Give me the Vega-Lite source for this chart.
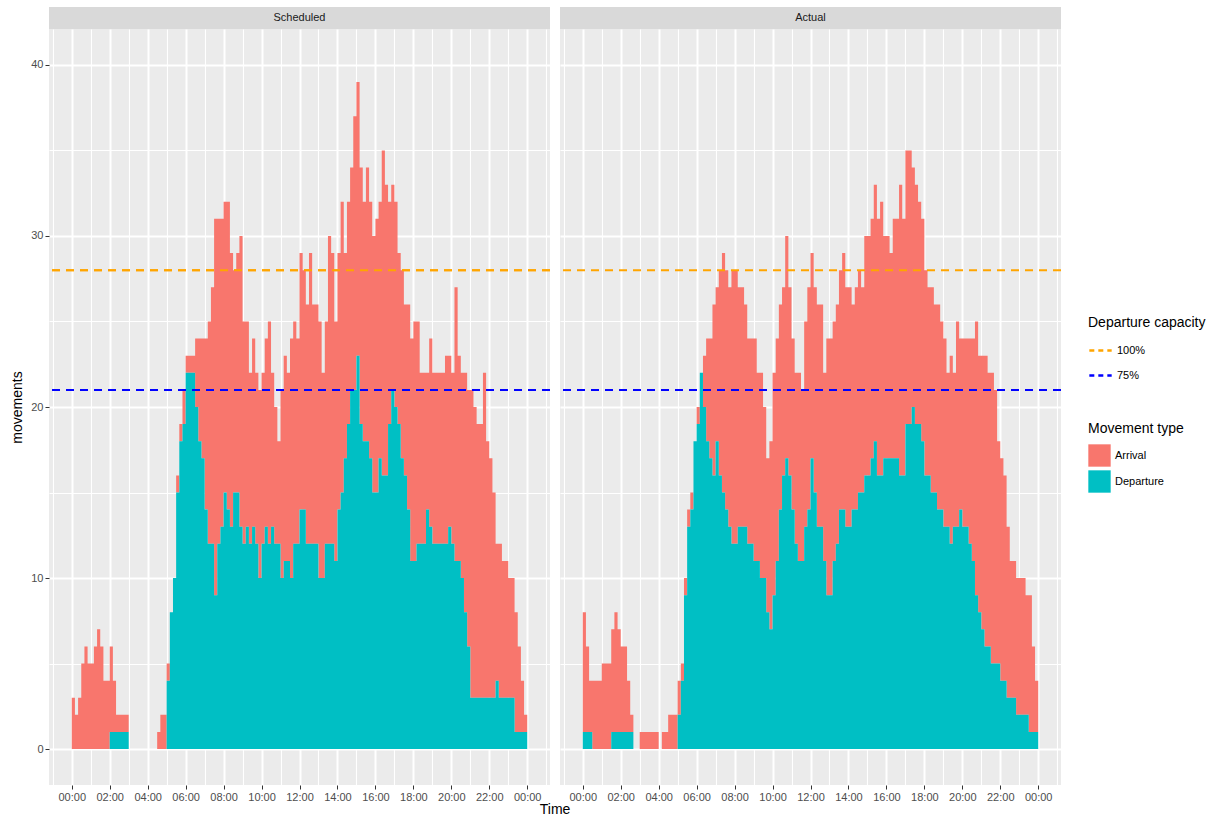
{
"$schema": "https://vega.github.io/schema/vega-lite/v6.json",
"background": "white",
"padding": {"left": 10, "top": 7, "right": 5, "bottom": 4},
"title": {"text": "Time", "orient": "bottom", "anchor": "start", "frame": "bounds", "dx": 529, "offset": 1, "fontSize": 14, "fontWeight": "normal", "color": "black", "font": "Liberation Sans"},
"config": {
  "font": "Liberation Sans",
  "view": {"stroke": null},
  "axis": {"labelColor": "#4D4D4D", "labelFontSize": 11, "titleFontSize": 14, "titleFontWeight": "normal", "titleColor": "black", "tickColor": "#333333", "tickSize": 4, "labelPadding": 2, "domain": false, "gridColor": "white"},
  "legend": {"titleFontSize": 14, "titleFontWeight": "normal", "titleColor": "black", "labelFontSize": 11, "labelColor": "black", "offset": 26, "rowPadding": 3, "titlePadding": 8, "layout": {"right": {"anchor": "middle", "direction": "vertical", "margin": 41}}}
},
"datasets": {"mov": [
{"panel":"Scheduled","min":0,"type":"Arrival","n":3},{"panel":"Scheduled","min":0,"type":"Departure","n":0},
{"panel":"Scheduled","min":10,"type":"Arrival","n":2},{"panel":"Scheduled","min":10,"type":"Departure","n":0},
{"panel":"Scheduled","min":20,"type":"Arrival","n":3},{"panel":"Scheduled","min":20,"type":"Departure","n":0},
{"panel":"Scheduled","min":30,"type":"Arrival","n":5},{"panel":"Scheduled","min":30,"type":"Departure","n":0},
{"panel":"Scheduled","min":40,"type":"Arrival","n":6},{"panel":"Scheduled","min":40,"type":"Departure","n":0},
{"panel":"Scheduled","min":50,"type":"Arrival","n":5},{"panel":"Scheduled","min":50,"type":"Departure","n":0},
{"panel":"Scheduled","min":60,"type":"Arrival","n":5},{"panel":"Scheduled","min":60,"type":"Departure","n":0},
{"panel":"Scheduled","min":70,"type":"Arrival","n":6},{"panel":"Scheduled","min":70,"type":"Departure","n":0},
{"panel":"Scheduled","min":80,"type":"Arrival","n":7},{"panel":"Scheduled","min":80,"type":"Departure","n":0},
{"panel":"Scheduled","min":90,"type":"Arrival","n":6},{"panel":"Scheduled","min":90,"type":"Departure","n":0},
{"panel":"Scheduled","min":100,"type":"Arrival","n":4},{"panel":"Scheduled","min":100,"type":"Departure","n":0},
{"panel":"Scheduled","min":110,"type":"Arrival","n":4},{"panel":"Scheduled","min":110,"type":"Departure","n":0},
{"panel":"Scheduled","min":120,"type":"Arrival","n":5},{"panel":"Scheduled","min":120,"type":"Departure","n":1},
{"panel":"Scheduled","min":130,"type":"Arrival","n":3},{"panel":"Scheduled","min":130,"type":"Departure","n":1},
{"panel":"Scheduled","min":140,"type":"Arrival","n":1},{"panel":"Scheduled","min":140,"type":"Departure","n":1},
{"panel":"Scheduled","min":150,"type":"Arrival","n":1},{"panel":"Scheduled","min":150,"type":"Departure","n":1},
{"panel":"Scheduled","min":160,"type":"Arrival","n":1},{"panel":"Scheduled","min":160,"type":"Departure","n":1},
{"panel":"Scheduled","min":170,"type":"Arrival","n":1},{"panel":"Scheduled","min":170,"type":"Departure","n":1},
{"panel":"Scheduled","min":180,"type":"Arrival","n":0},{"panel":"Scheduled","min":180,"type":"Departure","n":0},
{"panel":"Scheduled","min":190,"type":"Arrival","n":0},{"panel":"Scheduled","min":190,"type":"Departure","n":0},
{"panel":"Scheduled","min":200,"type":"Arrival","n":0},{"panel":"Scheduled","min":200,"type":"Departure","n":0},
{"panel":"Scheduled","min":210,"type":"Arrival","n":0},{"panel":"Scheduled","min":210,"type":"Departure","n":0},
{"panel":"Scheduled","min":220,"type":"Arrival","n":0},{"panel":"Scheduled","min":220,"type":"Departure","n":0},
{"panel":"Scheduled","min":230,"type":"Arrival","n":0},{"panel":"Scheduled","min":230,"type":"Departure","n":0},
{"panel":"Scheduled","min":240,"type":"Arrival","n":0},{"panel":"Scheduled","min":240,"type":"Departure","n":0},
{"panel":"Scheduled","min":250,"type":"Arrival","n":0},{"panel":"Scheduled","min":250,"type":"Departure","n":0},
{"panel":"Scheduled","min":260,"type":"Arrival","n":0},{"panel":"Scheduled","min":260,"type":"Departure","n":0},
{"panel":"Scheduled","min":270,"type":"Arrival","n":1},{"panel":"Scheduled","min":270,"type":"Departure","n":0},
{"panel":"Scheduled","min":280,"type":"Arrival","n":2},{"panel":"Scheduled","min":280,"type":"Departure","n":0},
{"panel":"Scheduled","min":290,"type":"Arrival","n":2},{"panel":"Scheduled","min":290,"type":"Departure","n":0},
{"panel":"Scheduled","min":300,"type":"Arrival","n":1},{"panel":"Scheduled","min":300,"type":"Departure","n":4},
{"panel":"Scheduled","min":310,"type":"Arrival","n":0},{"panel":"Scheduled","min":310,"type":"Departure","n":8},
{"panel":"Scheduled","min":320,"type":"Arrival","n":0},{"panel":"Scheduled","min":320,"type":"Departure","n":10},
{"panel":"Scheduled","min":330,"type":"Arrival","n":1},{"panel":"Scheduled","min":330,"type":"Departure","n":15},
{"panel":"Scheduled","min":340,"type":"Arrival","n":1},{"panel":"Scheduled","min":340,"type":"Departure","n":18},
{"panel":"Scheduled","min":350,"type":"Arrival","n":2},{"panel":"Scheduled","min":350,"type":"Departure","n":19},
{"panel":"Scheduled","min":360,"type":"Arrival","n":1},{"panel":"Scheduled","min":360,"type":"Departure","n":22},
{"panel":"Scheduled","min":370,"type":"Arrival","n":1},{"panel":"Scheduled","min":370,"type":"Departure","n":22},
{"panel":"Scheduled","min":380,"type":"Arrival","n":1},{"panel":"Scheduled","min":380,"type":"Departure","n":22},
{"panel":"Scheduled","min":390,"type":"Arrival","n":4},{"panel":"Scheduled","min":390,"type":"Departure","n":20},
{"panel":"Scheduled","min":400,"type":"Arrival","n":6},{"panel":"Scheduled","min":400,"type":"Departure","n":18},
{"panel":"Scheduled","min":410,"type":"Arrival","n":7},{"panel":"Scheduled","min":410,"type":"Departure","n":17},
{"panel":"Scheduled","min":420,"type":"Arrival","n":10},{"panel":"Scheduled","min":420,"type":"Departure","n":14},
{"panel":"Scheduled","min":430,"type":"Arrival","n":13},{"panel":"Scheduled","min":430,"type":"Departure","n":12},
{"panel":"Scheduled","min":440,"type":"Arrival","n":15},{"panel":"Scheduled","min":440,"type":"Departure","n":12},
{"panel":"Scheduled","min":450,"type":"Arrival","n":22},{"panel":"Scheduled","min":450,"type":"Departure","n":9},
{"panel":"Scheduled","min":460,"type":"Arrival","n":19},{"panel":"Scheduled","min":460,"type":"Departure","n":12},
{"panel":"Scheduled","min":470,"type":"Arrival","n":18},{"panel":"Scheduled","min":470,"type":"Departure","n":13},
{"panel":"Scheduled","min":480,"type":"Arrival","n":17},{"panel":"Scheduled","min":480,"type":"Departure","n":15},
{"panel":"Scheduled","min":490,"type":"Arrival","n":18},{"panel":"Scheduled","min":490,"type":"Departure","n":14},
{"panel":"Scheduled","min":500,"type":"Arrival","n":16},{"panel":"Scheduled","min":500,"type":"Departure","n":13},
{"panel":"Scheduled","min":510,"type":"Arrival","n":13},{"panel":"Scheduled","min":510,"type":"Departure","n":15},
{"panel":"Scheduled","min":520,"type":"Arrival","n":14},{"panel":"Scheduled","min":520,"type":"Departure","n":15},
{"panel":"Scheduled","min":530,"type":"Arrival","n":17},{"panel":"Scheduled","min":530,"type":"Departure","n":13},
{"panel":"Scheduled","min":540,"type":"Arrival","n":13},{"panel":"Scheduled","min":540,"type":"Departure","n":12},
{"panel":"Scheduled","min":550,"type":"Arrival","n":12},{"panel":"Scheduled","min":550,"type":"Departure","n":13},
{"panel":"Scheduled","min":560,"type":"Arrival","n":10},{"panel":"Scheduled","min":560,"type":"Departure","n":12},
{"panel":"Scheduled","min":570,"type":"Arrival","n":11},{"panel":"Scheduled","min":570,"type":"Departure","n":13},
{"panel":"Scheduled","min":580,"type":"Arrival","n":10},{"panel":"Scheduled","min":580,"type":"Departure","n":12},
{"panel":"Scheduled","min":590,"type":"Arrival","n":11},{"panel":"Scheduled","min":590,"type":"Departure","n":10},
{"panel":"Scheduled","min":600,"type":"Arrival","n":10},{"panel":"Scheduled","min":600,"type":"Departure","n":12},
{"panel":"Scheduled","min":610,"type":"Arrival","n":11},{"panel":"Scheduled","min":610,"type":"Departure","n":13},
{"panel":"Scheduled","min":620,"type":"Arrival","n":13},{"panel":"Scheduled","min":620,"type":"Departure","n":12},
{"panel":"Scheduled","min":630,"type":"Arrival","n":9},{"panel":"Scheduled","min":630,"type":"Departure","n":13},
{"panel":"Scheduled","min":640,"type":"Arrival","n":8},{"panel":"Scheduled","min":640,"type":"Departure","n":12},
{"panel":"Scheduled","min":650,"type":"Arrival","n":6},{"panel":"Scheduled","min":650,"type":"Departure","n":12},
{"panel":"Scheduled","min":660,"type":"Arrival","n":11},{"panel":"Scheduled","min":660,"type":"Departure","n":10},
{"panel":"Scheduled","min":670,"type":"Arrival","n":12},{"panel":"Scheduled","min":670,"type":"Departure","n":11},
{"panel":"Scheduled","min":680,"type":"Arrival","n":11},{"panel":"Scheduled","min":680,"type":"Departure","n":11},
{"panel":"Scheduled","min":690,"type":"Arrival","n":14},{"panel":"Scheduled","min":690,"type":"Departure","n":10},
{"panel":"Scheduled","min":700,"type":"Arrival","n":13},{"panel":"Scheduled","min":700,"type":"Departure","n":12},
{"panel":"Scheduled","min":710,"type":"Arrival","n":12},{"panel":"Scheduled","min":710,"type":"Departure","n":12},
{"panel":"Scheduled","min":720,"type":"Arrival","n":15},{"panel":"Scheduled","min":720,"type":"Departure","n":14},
{"panel":"Scheduled","min":730,"type":"Arrival","n":14},{"panel":"Scheduled","min":730,"type":"Departure","n":14},
{"panel":"Scheduled","min":740,"type":"Arrival","n":14},{"panel":"Scheduled","min":740,"type":"Departure","n":12},
{"panel":"Scheduled","min":750,"type":"Arrival","n":17},{"panel":"Scheduled","min":750,"type":"Departure","n":12},
{"panel":"Scheduled","min":760,"type":"Arrival","n":14},{"panel":"Scheduled","min":760,"type":"Departure","n":12},
{"panel":"Scheduled","min":770,"type":"Arrival","n":14},{"panel":"Scheduled","min":770,"type":"Departure","n":12},
{"panel":"Scheduled","min":780,"type":"Arrival","n":15},{"panel":"Scheduled","min":780,"type":"Departure","n":10},
{"panel":"Scheduled","min":790,"type":"Arrival","n":12},{"panel":"Scheduled","min":790,"type":"Departure","n":10},
{"panel":"Scheduled","min":800,"type":"Arrival","n":13},{"panel":"Scheduled","min":800,"type":"Departure","n":12},
{"panel":"Scheduled","min":810,"type":"Arrival","n":18},{"panel":"Scheduled","min":810,"type":"Departure","n":12},
{"panel":"Scheduled","min":820,"type":"Arrival","n":17},{"panel":"Scheduled","min":820,"type":"Departure","n":12},
{"panel":"Scheduled","min":830,"type":"Arrival","n":14},{"panel":"Scheduled","min":830,"type":"Departure","n":11},
{"panel":"Scheduled","min":840,"type":"Arrival","n":15},{"panel":"Scheduled","min":840,"type":"Departure","n":14},
{"panel":"Scheduled","min":850,"type":"Arrival","n":17},{"panel":"Scheduled","min":850,"type":"Departure","n":15},
{"panel":"Scheduled","min":860,"type":"Arrival","n":12},{"panel":"Scheduled","min":860,"type":"Departure","n":17},
{"panel":"Scheduled","min":870,"type":"Arrival","n":13},{"panel":"Scheduled","min":870,"type":"Departure","n":19},
{"panel":"Scheduled","min":880,"type":"Arrival","n":13},{"panel":"Scheduled","min":880,"type":"Departure","n":21},
{"panel":"Scheduled","min":890,"type":"Arrival","n":16},{"panel":"Scheduled","min":890,"type":"Departure","n":21},
{"panel":"Scheduled","min":900,"type":"Arrival","n":16},{"panel":"Scheduled","min":900,"type":"Departure","n":23},
{"panel":"Scheduled","min":910,"type":"Arrival","n":15},{"panel":"Scheduled","min":910,"type":"Departure","n":19},
{"panel":"Scheduled","min":920,"type":"Arrival","n":14},{"panel":"Scheduled","min":920,"type":"Departure","n":18},
{"panel":"Scheduled","min":930,"type":"Arrival","n":16},{"panel":"Scheduled","min":930,"type":"Departure","n":18},
{"panel":"Scheduled","min":940,"type":"Arrival","n":15},{"panel":"Scheduled","min":940,"type":"Departure","n":17},
{"panel":"Scheduled","min":950,"type":"Arrival","n":15},{"panel":"Scheduled","min":950,"type":"Departure","n":15},
{"panel":"Scheduled","min":960,"type":"Arrival","n":16},{"panel":"Scheduled","min":960,"type":"Departure","n":15},
{"panel":"Scheduled","min":970,"type":"Arrival","n":15},{"panel":"Scheduled","min":970,"type":"Departure","n":17},
{"panel":"Scheduled","min":980,"type":"Arrival","n":19},{"panel":"Scheduled","min":980,"type":"Departure","n":16},
{"panel":"Scheduled","min":990,"type":"Arrival","n":17},{"panel":"Scheduled","min":990,"type":"Departure","n":16},
{"panel":"Scheduled","min":1000,"type":"Arrival","n":13},{"panel":"Scheduled","min":1000,"type":"Departure","n":19},
{"panel":"Scheduled","min":1010,"type":"Arrival","n":12},{"panel":"Scheduled","min":1010,"type":"Departure","n":21},
{"panel":"Scheduled","min":1020,"type":"Arrival","n":12},{"panel":"Scheduled","min":1020,"type":"Departure","n":20},
{"panel":"Scheduled","min":1030,"type":"Arrival","n":10},{"panel":"Scheduled","min":1030,"type":"Departure","n":19},
{"panel":"Scheduled","min":1040,"type":"Arrival","n":11},{"panel":"Scheduled","min":1040,"type":"Departure","n":17},
{"panel":"Scheduled","min":1050,"type":"Arrival","n":10},{"panel":"Scheduled","min":1050,"type":"Departure","n":16},
{"panel":"Scheduled","min":1060,"type":"Arrival","n":12},{"panel":"Scheduled","min":1060,"type":"Departure","n":14},
{"panel":"Scheduled","min":1070,"type":"Arrival","n":13},{"panel":"Scheduled","min":1070,"type":"Departure","n":11},
{"panel":"Scheduled","min":1080,"type":"Arrival","n":14},{"panel":"Scheduled","min":1080,"type":"Departure","n":11},
{"panel":"Scheduled","min":1090,"type":"Arrival","n":13},{"panel":"Scheduled","min":1090,"type":"Departure","n":12},
{"panel":"Scheduled","min":1100,"type":"Arrival","n":10},{"panel":"Scheduled","min":1100,"type":"Departure","n":12},
{"panel":"Scheduled","min":1110,"type":"Arrival","n":10},{"panel":"Scheduled","min":1110,"type":"Departure","n":12},
{"panel":"Scheduled","min":1120,"type":"Arrival","n":8},{"panel":"Scheduled","min":1120,"type":"Departure","n":14},
{"panel":"Scheduled","min":1130,"type":"Arrival","n":11},{"panel":"Scheduled","min":1130,"type":"Departure","n":13},
{"panel":"Scheduled","min":1140,"type":"Arrival","n":10},{"panel":"Scheduled","min":1140,"type":"Departure","n":12},
{"panel":"Scheduled","min":1150,"type":"Arrival","n":10},{"panel":"Scheduled","min":1150,"type":"Departure","n":12},
{"panel":"Scheduled","min":1160,"type":"Arrival","n":10},{"panel":"Scheduled","min":1160,"type":"Departure","n":12},
{"panel":"Scheduled","min":1170,"type":"Arrival","n":10},{"panel":"Scheduled","min":1170,"type":"Departure","n":12},
{"panel":"Scheduled","min":1180,"type":"Arrival","n":11},{"panel":"Scheduled","min":1180,"type":"Departure","n":12},
{"panel":"Scheduled","min":1190,"type":"Arrival","n":10},{"panel":"Scheduled","min":1190,"type":"Departure","n":13},
{"panel":"Scheduled","min":1200,"type":"Arrival","n":10},{"panel":"Scheduled","min":1200,"type":"Departure","n":12},
{"panel":"Scheduled","min":1210,"type":"Arrival","n":16},{"panel":"Scheduled","min":1210,"type":"Departure","n":11},
{"panel":"Scheduled","min":1220,"type":"Arrival","n":12},{"panel":"Scheduled","min":1220,"type":"Departure","n":11},
{"panel":"Scheduled","min":1230,"type":"Arrival","n":12},{"panel":"Scheduled","min":1230,"type":"Departure","n":10},
{"panel":"Scheduled","min":1240,"type":"Arrival","n":14},{"panel":"Scheduled","min":1240,"type":"Departure","n":8},
{"panel":"Scheduled","min":1250,"type":"Arrival","n":15},{"panel":"Scheduled","min":1250,"type":"Departure","n":6},
{"panel":"Scheduled","min":1260,"type":"Arrival","n":18},{"panel":"Scheduled","min":1260,"type":"Departure","n":3},
{"panel":"Scheduled","min":1270,"type":"Arrival","n":17},{"panel":"Scheduled","min":1270,"type":"Departure","n":3},
{"panel":"Scheduled","min":1280,"type":"Arrival","n":16},{"panel":"Scheduled","min":1280,"type":"Departure","n":3},
{"panel":"Scheduled","min":1290,"type":"Arrival","n":16},{"panel":"Scheduled","min":1290,"type":"Departure","n":3},
{"panel":"Scheduled","min":1300,"type":"Arrival","n":19},{"panel":"Scheduled","min":1300,"type":"Departure","n":3},
{"panel":"Scheduled","min":1310,"type":"Arrival","n":15},{"panel":"Scheduled","min":1310,"type":"Departure","n":3},
{"panel":"Scheduled","min":1320,"type":"Arrival","n":14},{"panel":"Scheduled","min":1320,"type":"Departure","n":3},
{"panel":"Scheduled","min":1330,"type":"Arrival","n":12},{"panel":"Scheduled","min":1330,"type":"Departure","n":3},
{"panel":"Scheduled","min":1340,"type":"Arrival","n":8},{"panel":"Scheduled","min":1340,"type":"Departure","n":4},
{"panel":"Scheduled","min":1350,"type":"Arrival","n":9},{"panel":"Scheduled","min":1350,"type":"Departure","n":3},
{"panel":"Scheduled","min":1360,"type":"Arrival","n":8},{"panel":"Scheduled","min":1360,"type":"Departure","n":3},
{"panel":"Scheduled","min":1370,"type":"Arrival","n":8},{"panel":"Scheduled","min":1370,"type":"Departure","n":3},
{"panel":"Scheduled","min":1380,"type":"Arrival","n":7},{"panel":"Scheduled","min":1380,"type":"Departure","n":3},
{"panel":"Scheduled","min":1390,"type":"Arrival","n":7},{"panel":"Scheduled","min":1390,"type":"Departure","n":3},
{"panel":"Scheduled","min":1400,"type":"Arrival","n":7},{"panel":"Scheduled","min":1400,"type":"Departure","n":1},
{"panel":"Scheduled","min":1410,"type":"Arrival","n":5},{"panel":"Scheduled","min":1410,"type":"Departure","n":1},
{"panel":"Scheduled","min":1420,"type":"Arrival","n":3},{"panel":"Scheduled","min":1420,"type":"Departure","n":1},
{"panel":"Scheduled","min":1430,"type":"Arrival","n":1},{"panel":"Scheduled","min":1430,"type":"Departure","n":1},
{"panel":"Scheduled","min":1440,"type":"Arrival","n":0},{"panel":"Scheduled","min":1440,"type":"Departure","n":0},
{"panel":"Actual","min":0,"type":"Arrival","n":7},{"panel":"Actual","min":0,"type":"Departure","n":1},
{"panel":"Actual","min":10,"type":"Arrival","n":5},{"panel":"Actual","min":10,"type":"Departure","n":1},
{"panel":"Actual","min":20,"type":"Arrival","n":3},{"panel":"Actual","min":20,"type":"Departure","n":1},
{"panel":"Actual","min":30,"type":"Arrival","n":4},{"panel":"Actual","min":30,"type":"Departure","n":0},
{"panel":"Actual","min":40,"type":"Arrival","n":4},{"panel":"Actual","min":40,"type":"Departure","n":0},
{"panel":"Actual","min":50,"type":"Arrival","n":4},{"panel":"Actual","min":50,"type":"Departure","n":0},
{"panel":"Actual","min":60,"type":"Arrival","n":5},{"panel":"Actual","min":60,"type":"Departure","n":0},
{"panel":"Actual","min":70,"type":"Arrival","n":5},{"panel":"Actual","min":70,"type":"Departure","n":0},
{"panel":"Actual","min":80,"type":"Arrival","n":5},{"panel":"Actual","min":80,"type":"Departure","n":0},
{"panel":"Actual","min":90,"type":"Arrival","n":6},{"panel":"Actual","min":90,"type":"Departure","n":1},
{"panel":"Actual","min":100,"type":"Arrival","n":7},{"panel":"Actual","min":100,"type":"Departure","n":1},
{"panel":"Actual","min":110,"type":"Arrival","n":6},{"panel":"Actual","min":110,"type":"Departure","n":1},
{"panel":"Actual","min":120,"type":"Arrival","n":5},{"panel":"Actual","min":120,"type":"Departure","n":1},
{"panel":"Actual","min":130,"type":"Arrival","n":5},{"panel":"Actual","min":130,"type":"Departure","n":1},
{"panel":"Actual","min":140,"type":"Arrival","n":3},{"panel":"Actual","min":140,"type":"Departure","n":1},
{"panel":"Actual","min":150,"type":"Arrival","n":1},{"panel":"Actual","min":150,"type":"Departure","n":1},
{"panel":"Actual","min":160,"type":"Arrival","n":0},{"panel":"Actual","min":160,"type":"Departure","n":0},
{"panel":"Actual","min":170,"type":"Arrival","n":0},{"panel":"Actual","min":170,"type":"Departure","n":0},
{"panel":"Actual","min":180,"type":"Arrival","n":1},{"panel":"Actual","min":180,"type":"Departure","n":0},
{"panel":"Actual","min":190,"type":"Arrival","n":1},{"panel":"Actual","min":190,"type":"Departure","n":0},
{"panel":"Actual","min":200,"type":"Arrival","n":1},{"panel":"Actual","min":200,"type":"Departure","n":0},
{"panel":"Actual","min":210,"type":"Arrival","n":1},{"panel":"Actual","min":210,"type":"Departure","n":0},
{"panel":"Actual","min":220,"type":"Arrival","n":1},{"panel":"Actual","min":220,"type":"Departure","n":0},
{"panel":"Actual","min":230,"type":"Arrival","n":1},{"panel":"Actual","min":230,"type":"Departure","n":0},
{"panel":"Actual","min":240,"type":"Arrival","n":0},{"panel":"Actual","min":240,"type":"Departure","n":0},
{"panel":"Actual","min":250,"type":"Arrival","n":1},{"panel":"Actual","min":250,"type":"Departure","n":0},
{"panel":"Actual","min":260,"type":"Arrival","n":1},{"panel":"Actual","min":260,"type":"Departure","n":0},
{"panel":"Actual","min":270,"type":"Arrival","n":2},{"panel":"Actual","min":270,"type":"Departure","n":0},
{"panel":"Actual","min":280,"type":"Arrival","n":2},{"panel":"Actual","min":280,"type":"Departure","n":0},
{"panel":"Actual","min":290,"type":"Arrival","n":2},{"panel":"Actual","min":290,"type":"Departure","n":0},
{"panel":"Actual","min":300,"type":"Arrival","n":2},{"panel":"Actual","min":300,"type":"Departure","n":2},
{"panel":"Actual","min":310,"type":"Arrival","n":1},{"panel":"Actual","min":310,"type":"Departure","n":4},
{"panel":"Actual","min":320,"type":"Arrival","n":1},{"panel":"Actual","min":320,"type":"Departure","n":9},
{"panel":"Actual","min":330,"type":"Arrival","n":1},{"panel":"Actual","min":330,"type":"Departure","n":13},
{"panel":"Actual","min":340,"type":"Arrival","n":1},{"panel":"Actual","min":340,"type":"Departure","n":14},
{"panel":"Actual","min":350,"type":"Arrival","n":0},{"panel":"Actual","min":350,"type":"Departure","n":18},
{"panel":"Actual","min":360,"type":"Arrival","n":1},{"panel":"Actual","min":360,"type":"Departure","n":19},
{"panel":"Actual","min":370,"type":"Arrival","n":0},{"panel":"Actual","min":370,"type":"Departure","n":22},
{"panel":"Actual","min":380,"type":"Arrival","n":3},{"panel":"Actual","min":380,"type":"Departure","n":20},
{"panel":"Actual","min":390,"type":"Arrival","n":6},{"panel":"Actual","min":390,"type":"Departure","n":18},
{"panel":"Actual","min":400,"type":"Arrival","n":7},{"panel":"Actual","min":400,"type":"Departure","n":17},
{"panel":"Actual","min":410,"type":"Arrival","n":10},{"panel":"Actual","min":410,"type":"Departure","n":16},
{"panel":"Actual","min":420,"type":"Arrival","n":9},{"panel":"Actual","min":420,"type":"Departure","n":18},
{"panel":"Actual","min":430,"type":"Arrival","n":12},{"panel":"Actual","min":430,"type":"Departure","n":16},
{"panel":"Actual","min":440,"type":"Arrival","n":14},{"panel":"Actual","min":440,"type":"Departure","n":15},
{"panel":"Actual","min":450,"type":"Arrival","n":14},{"panel":"Actual","min":450,"type":"Departure","n":14},
{"panel":"Actual","min":460,"type":"Arrival","n":14},{"panel":"Actual","min":460,"type":"Departure","n":13},
{"panel":"Actual","min":470,"type":"Arrival","n":16},{"panel":"Actual","min":470,"type":"Departure","n":12},
{"panel":"Actual","min":480,"type":"Arrival","n":16},{"panel":"Actual","min":480,"type":"Departure","n":12},
{"panel":"Actual","min":490,"type":"Arrival","n":14},{"panel":"Actual","min":490,"type":"Departure","n":13},
{"panel":"Actual","min":500,"type":"Arrival","n":14},{"panel":"Actual","min":500,"type":"Departure","n":13},
{"panel":"Actual","min":510,"type":"Arrival","n":13},{"panel":"Actual","min":510,"type":"Departure","n":13},
{"panel":"Actual","min":520,"type":"Arrival","n":12},{"panel":"Actual","min":520,"type":"Departure","n":12},
{"panel":"Actual","min":530,"type":"Arrival","n":12},{"panel":"Actual","min":530,"type":"Departure","n":12},
{"panel":"Actual","min":540,"type":"Arrival","n":13},{"panel":"Actual","min":540,"type":"Departure","n":11},
{"panel":"Actual","min":550,"type":"Arrival","n":11},{"panel":"Actual","min":550,"type":"Departure","n":11},
{"panel":"Actual","min":560,"type":"Arrival","n":12},{"panel":"Actual","min":560,"type":"Departure","n":10},
{"panel":"Actual","min":570,"type":"Arrival","n":10},{"panel":"Actual","min":570,"type":"Departure","n":10},
{"panel":"Actual","min":580,"type":"Arrival","n":9},{"panel":"Actual","min":580,"type":"Departure","n":8},
{"panel":"Actual","min":590,"type":"Arrival","n":11},{"panel":"Actual","min":590,"type":"Departure","n":7},
{"panel":"Actual","min":600,"type":"Arrival","n":13},{"panel":"Actual","min":600,"type":"Departure","n":9},
{"panel":"Actual","min":610,"type":"Arrival","n":13},{"panel":"Actual","min":610,"type":"Departure","n":11},
{"panel":"Actual","min":620,"type":"Arrival","n":12},{"panel":"Actual","min":620,"type":"Departure","n":14},
{"panel":"Actual","min":630,"type":"Arrival","n":11},{"panel":"Actual","min":630,"type":"Departure","n":16},
{"panel":"Actual","min":640,"type":"Arrival","n":13},{"panel":"Actual","min":640,"type":"Departure","n":17},
{"panel":"Actual","min":650,"type":"Arrival","n":11},{"panel":"Actual","min":650,"type":"Departure","n":16},
{"panel":"Actual","min":660,"type":"Arrival","n":10},{"panel":"Actual","min":660,"type":"Departure","n":14},
{"panel":"Actual","min":670,"type":"Arrival","n":10},{"panel":"Actual","min":670,"type":"Departure","n":12},
{"panel":"Actual","min":680,"type":"Arrival","n":11},{"panel":"Actual","min":680,"type":"Departure","n":11},
{"panel":"Actual","min":690,"type":"Arrival","n":10},{"panel":"Actual","min":690,"type":"Departure","n":11},
{"panel":"Actual","min":700,"type":"Arrival","n":12},{"panel":"Actual","min":700,"type":"Departure","n":13},
{"panel":"Actual","min":710,"type":"Arrival","n":13},{"panel":"Actual","min":710,"type":"Departure","n":14},
{"panel":"Actual","min":720,"type":"Arrival","n":12},{"panel":"Actual","min":720,"type":"Departure","n":17},
{"panel":"Actual","min":730,"type":"Arrival","n":12},{"panel":"Actual","min":730,"type":"Departure","n":15},
{"panel":"Actual","min":740,"type":"Arrival","n":13},{"panel":"Actual","min":740,"type":"Departure","n":13},
{"panel":"Actual","min":750,"type":"Arrival","n":13},{"panel":"Actual","min":750,"type":"Departure","n":13},
{"panel":"Actual","min":760,"type":"Arrival","n":11},{"panel":"Actual","min":760,"type":"Departure","n":11},
{"panel":"Actual","min":770,"type":"Arrival","n":15},{"panel":"Actual","min":770,"type":"Departure","n":9},
{"panel":"Actual","min":780,"type":"Arrival","n":15},{"panel":"Actual","min":780,"type":"Departure","n":9},
{"panel":"Actual","min":790,"type":"Arrival","n":14},{"panel":"Actual","min":790,"type":"Departure","n":11},
{"panel":"Actual","min":800,"type":"Arrival","n":14},{"panel":"Actual","min":800,"type":"Departure","n":12},
{"panel":"Actual","min":810,"type":"Arrival","n":14},{"panel":"Actual","min":810,"type":"Departure","n":14},
{"panel":"Actual","min":820,"type":"Arrival","n":15},{"panel":"Actual","min":820,"type":"Departure","n":14},
{"panel":"Actual","min":830,"type":"Arrival","n":14},{"panel":"Actual","min":830,"type":"Departure","n":13},
{"panel":"Actual","min":840,"type":"Arrival","n":14},{"panel":"Actual","min":840,"type":"Departure","n":13},
{"panel":"Actual","min":850,"type":"Arrival","n":12},{"panel":"Actual","min":850,"type":"Departure","n":14},
{"panel":"Actual","min":860,"type":"Arrival","n":13},{"panel":"Actual","min":860,"type":"Departure","n":14},
{"panel":"Actual","min":870,"type":"Arrival","n":13},{"panel":"Actual","min":870,"type":"Departure","n":15},
{"panel":"Actual","min":880,"type":"Arrival","n":12},{"panel":"Actual","min":880,"type":"Departure","n":15},
{"panel":"Actual","min":890,"type":"Arrival","n":14},{"panel":"Actual","min":890,"type":"Departure","n":16},
{"panel":"Actual","min":900,"type":"Arrival","n":14},{"panel":"Actual","min":900,"type":"Departure","n":16},
{"panel":"Actual","min":910,"type":"Arrival","n":14},{"panel":"Actual","min":910,"type":"Departure","n":17},
{"panel":"Actual","min":920,"type":"Arrival","n":15},{"panel":"Actual","min":920,"type":"Departure","n":18},
{"panel":"Actual","min":930,"type":"Arrival","n":15},{"panel":"Actual","min":930,"type":"Departure","n":16},
{"panel":"Actual","min":940,"type":"Arrival","n":16},{"panel":"Actual","min":940,"type":"Departure","n":16},
{"panel":"Actual","min":950,"type":"Arrival","n":13},{"panel":"Actual","min":950,"type":"Departure","n":17},
{"panel":"Actual","min":960,"type":"Arrival","n":13},{"panel":"Actual","min":960,"type":"Departure","n":17},
{"panel":"Actual","min":970,"type":"Arrival","n":12},{"panel":"Actual","min":970,"type":"Departure","n":17},
{"panel":"Actual","min":980,"type":"Arrival","n":14},{"panel":"Actual","min":980,"type":"Departure","n":17},
{"panel":"Actual","min":990,"type":"Arrival","n":14},{"panel":"Actual","min":990,"type":"Departure","n":17},
{"panel":"Actual","min":1000,"type":"Arrival","n":17},{"panel":"Actual","min":1000,"type":"Departure","n":16},
{"panel":"Actual","min":1010,"type":"Arrival","n":15},{"panel":"Actual","min":1010,"type":"Departure","n":16},
{"panel":"Actual","min":1020,"type":"Arrival","n":16},{"panel":"Actual","min":1020,"type":"Departure","n":19},
{"panel":"Actual","min":1030,"type":"Arrival","n":16},{"panel":"Actual","min":1030,"type":"Departure","n":19},
{"panel":"Actual","min":1040,"type":"Arrival","n":14},{"panel":"Actual","min":1040,"type":"Departure","n":20},
{"panel":"Actual","min":1050,"type":"Arrival","n":14},{"panel":"Actual","min":1050,"type":"Departure","n":19},
{"panel":"Actual","min":1060,"type":"Arrival","n":13},{"panel":"Actual","min":1060,"type":"Departure","n":19},
{"panel":"Actual","min":1070,"type":"Arrival","n":13},{"panel":"Actual","min":1070,"type":"Departure","n":18},
{"panel":"Actual","min":1080,"type":"Arrival","n":12},{"panel":"Actual","min":1080,"type":"Departure","n":16},
{"panel":"Actual","min":1090,"type":"Arrival","n":11},{"panel":"Actual","min":1090,"type":"Departure","n":16},
{"panel":"Actual","min":1100,"type":"Arrival","n":12},{"panel":"Actual","min":1100,"type":"Departure","n":15},
{"panel":"Actual","min":1110,"type":"Arrival","n":11},{"panel":"Actual","min":1110,"type":"Departure","n":15},
{"panel":"Actual","min":1120,"type":"Arrival","n":12},{"panel":"Actual","min":1120,"type":"Departure","n":14},
{"panel":"Actual","min":1130,"type":"Arrival","n":11},{"panel":"Actual","min":1130,"type":"Departure","n":14},
{"panel":"Actual","min":1140,"type":"Arrival","n":11},{"panel":"Actual","min":1140,"type":"Departure","n":13},
{"panel":"Actual","min":1150,"type":"Arrival","n":9},{"panel":"Actual","min":1150,"type":"Departure","n":13},
{"panel":"Actual","min":1160,"type":"Arrival","n":11},{"panel":"Actual","min":1160,"type":"Departure","n":12},
{"panel":"Actual","min":1170,"type":"Arrival","n":9},{"panel":"Actual","min":1170,"type":"Departure","n":13},
{"panel":"Actual","min":1180,"type":"Arrival","n":12},{"panel":"Actual","min":1180,"type":"Departure","n":13},
{"panel":"Actual","min":1190,"type":"Arrival","n":10},{"panel":"Actual","min":1190,"type":"Departure","n":14},
{"panel":"Actual","min":1200,"type":"Arrival","n":11},{"panel":"Actual","min":1200,"type":"Departure","n":13},
{"panel":"Actual","min":1210,"type":"Arrival","n":11},{"panel":"Actual","min":1210,"type":"Departure","n":13},
{"panel":"Actual","min":1220,"type":"Arrival","n":12},{"panel":"Actual","min":1220,"type":"Departure","n":12},
{"panel":"Actual","min":1230,"type":"Arrival","n":13},{"panel":"Actual","min":1230,"type":"Departure","n":11},
{"panel":"Actual","min":1240,"type":"Arrival","n":16},{"panel":"Actual","min":1240,"type":"Departure","n":9},
{"panel":"Actual","min":1250,"type":"Arrival","n":15},{"panel":"Actual","min":1250,"type":"Departure","n":8},
{"panel":"Actual","min":1260,"type":"Arrival","n":16},{"panel":"Actual","min":1260,"type":"Departure","n":7},
{"panel":"Actual","min":1270,"type":"Arrival","n":17},{"panel":"Actual","min":1270,"type":"Departure","n":6},
{"panel":"Actual","min":1280,"type":"Arrival","n":16},{"panel":"Actual","min":1280,"type":"Departure","n":6},
{"panel":"Actual","min":1290,"type":"Arrival","n":17},{"panel":"Actual","min":1290,"type":"Departure","n":5},
{"panel":"Actual","min":1300,"type":"Arrival","n":16},{"panel":"Actual","min":1300,"type":"Departure","n":5},
{"panel":"Actual","min":1310,"type":"Arrival","n":13},{"panel":"Actual","min":1310,"type":"Departure","n":5},
{"panel":"Actual","min":1320,"type":"Arrival","n":13},{"panel":"Actual","min":1320,"type":"Departure","n":4},
{"panel":"Actual","min":1330,"type":"Arrival","n":12},{"panel":"Actual","min":1330,"type":"Departure","n":4},
{"panel":"Actual","min":1340,"type":"Arrival","n":10},{"panel":"Actual","min":1340,"type":"Departure","n":3},
{"panel":"Actual","min":1350,"type":"Arrival","n":8},{"panel":"Actual","min":1350,"type":"Departure","n":3},
{"panel":"Actual","min":1360,"type":"Arrival","n":8},{"panel":"Actual","min":1360,"type":"Departure","n":3},
{"panel":"Actual","min":1370,"type":"Arrival","n":8},{"panel":"Actual","min":1370,"type":"Departure","n":2},
{"panel":"Actual","min":1380,"type":"Arrival","n":8},{"panel":"Actual","min":1380,"type":"Departure","n":2},
{"panel":"Actual","min":1390,"type":"Arrival","n":8},{"panel":"Actual","min":1390,"type":"Departure","n":2},
{"panel":"Actual","min":1400,"type":"Arrival","n":7},{"panel":"Actual","min":1400,"type":"Departure","n":2},
{"panel":"Actual","min":1410,"type":"Arrival","n":8},{"panel":"Actual","min":1410,"type":"Departure","n":1},
{"panel":"Actual","min":1420,"type":"Arrival","n":5},{"panel":"Actual","min":1420,"type":"Departure","n":1},
{"panel":"Actual","min":1430,"type":"Arrival","n":3},{"panel":"Actual","min":1430,"type":"Departure","n":1},
{"panel":"Actual","min":1440,"type":"Arrival","n":0},{"panel":"Actual","min":1440,"type":"Departure","n":0}
],
"caps": [{"cap": "100%", "level": 28}, {"cap": "75%", "level": 21}]
},
"spacing": 8,
"hconcat": [
  {
    "bounds": "flush",
    "spacing": 0,
    "vconcat": [
      {
        "width": 501, "height": 22,
        "view": {"fill": "#D9D9D9", "stroke": null},
        "data": {"values": [{"label": "Scheduled"}]},
        "mark": {"type": "text", "fontSize": 11, "color": "#1A1A1A"},
        "encoding": {"text": {"field": "label", "type": "nominal"}}
      },
      {
        "width": 501, "height": 756,
        "view": {"fill": "#EBEBEB", "stroke": null},
        "layer": [
          {
            "data": {"name": "caps"},
            "mark": {"type": "rule", "strokeDash": [8, 6], "strokeWidth": 2},
            "encoding": {
              "y": {"field": "level", "type": "quantitative", "scale": {"domain": [-2.1, 42.1], "nice": false, "zero": false}},
              "color": {"field": "cap", "type": "nominal", "scale": {"domain": ["100%", "75%"], "range": ["#FFA500", "#0000FF"]},
                "legend": {"title": "Departure capacity", "symbolType": "stroke", "symbolDash": [5, 4], "symbolStrokeWidth": 2.5, "symbolSize": 500, "rowPadding": 7}}
            }
          },
          {
            "data": {"name": "mov"},
            "transform": [{"filter": "datum.panel === 'Scheduled'"}],
            "mark": {"type": "area", "interpolate": "step-after"},
            "encoding": {
              "x": {"field": "min", "type": "quantitative", "scale": {"domain": [-72, 1512], "nice": false, "zero": false},
                "axis": {"values": [-60,0,60,120,180,240,300,360,420,480,540,600,660,720,780,840,900,960,1020,1080,1140,1200,1260,1320,1380,1440,1500],
                  "labelExpr": "datum.value % 120 === 0 ? ((floor(datum.value/60) % 24) < 10 ? '0' : '') + (floor(datum.value/60) % 24) + ':00' : ''",
                  "tickOpacity": {"condition": {"test": "datum.value % 120 === 0", "value": 1}, "value": 0},
                  "gridWidth": {"condition": {"test": "datum.value % 120 === 0", "value": 2}, "value": 1.1},
                  "labelFlush": false, "labelOverlap": false,
                  "title": null}},
              "y": {"field": "n", "type": "quantitative", "stack": "zero", "scale": {"domain": [-2.1, 42.1], "nice": false, "zero": false},
                "axis": {"values": [0,5,10,15,20,25,30,35,40],
                  "labelExpr": "datum.value % 10 === 0 ? datum.label : ''",
                  "tickOpacity": {"condition": {"test": "datum.value % 10 === 0", "value": 1}, "value": 0},
                  "gridWidth": {"condition": {"test": "datum.value % 10 === 0", "value": 2}, "value": 1.1},
                  "title": "movements", "titlePadding": 6}},
              "fill": {"field": "type", "type": "nominal", "scale": {"domain": ["Arrival", "Departure"], "range": ["#F8766D", "#00BFC4"]},
                "legend": {"title": "Movement type", "symbolType": "square", "symbolSize": 500, "symbolStrokeWidth": 0, "symbolOpacity": 1}}
            }
          },
          {
            "data": {"name": "caps"},
            "mark": {"type": "rule", "strokeDash": [8, 6], "strokeWidth": 2},
            "encoding": {
              "y": {"field": "level", "type": "quantitative"},
              "color": {"field": "cap", "type": "nominal", "legend": null}
            }
          }
        ]
      }
    ]
  },
  {
    "bounds": "flush",
    "spacing": 0,
    "vconcat": [
      {
        "width": 501, "height": 22,
        "view": {"fill": "#D9D9D9", "stroke": null},
        "data": {"values": [{"label": "Actual"}]},
        "mark": {"type": "text", "fontSize": 11, "color": "#1A1A1A"},
        "encoding": {"text": {"field": "label", "type": "nominal"}}
      },
      {
        "width": 501, "height": 756,
        "view": {"fill": "#EBEBEB", "stroke": null},
        "layer": [
          {
            "data": {"name": "mov"},
            "transform": [{"filter": "datum.panel === 'Actual'"}],
            "mark": {"type": "area", "interpolate": "step-after"},
            "encoding": {
              "x": {"field": "min", "type": "quantitative", "scale": {"domain": [-72, 1512], "nice": false, "zero": false},
                "axis": {"values": [-60,0,60,120,180,240,300,360,420,480,540,600,660,720,780,840,900,960,1020,1080,1140,1200,1260,1320,1380,1440,1500],
                  "labelExpr": "datum.value % 120 === 0 ? ((floor(datum.value/60) % 24) < 10 ? '0' : '') + (floor(datum.value/60) % 24) + ':00' : ''",
                  "tickOpacity": {"condition": {"test": "datum.value % 120 === 0", "value": 1}, "value": 0},
                  "gridWidth": {"condition": {"test": "datum.value % 120 === 0", "value": 2}, "value": 1.1},
                  "labelFlush": false, "labelOverlap": false,
                  "title": null}},
              "y": {"field": "n", "type": "quantitative", "stack": "zero", "scale": {"domain": [-2.1, 42.1], "nice": false, "zero": false},
                "axis": {"values": [0,5,10,15,20,25,30,35,40],
                  "labels": false, "ticks": false, "title": null,
                  "gridWidth": {"condition": {"test": "datum.value % 10 === 0", "value": 2}, "value": 1.1}}},
              "fill": {"field": "type", "type": "nominal", "scale": {"domain": ["Arrival", "Departure"], "range": ["#F8766D", "#00BFC4"]},
                "legend": {"title": "Movement type", "symbolType": "square", "symbolSize": 500, "symbolStrokeWidth": 0, "symbolOpacity": 1}}
            }
          },
          {
            "data": {"name": "caps"},
            "mark": {"type": "rule", "strokeDash": [8, 6], "strokeWidth": 2},
            "encoding": {
              "y": {"field": "level", "type": "quantitative"},
              "color": {"field": "cap", "type": "nominal", "scale": {"domain": ["100%", "75%"], "range": ["#FFA500", "#0000FF"]},
                "legend": {"title": "Departure capacity", "symbolType": "stroke", "symbolDash": [5, 4], "symbolStrokeWidth": 2.5, "symbolSize": 500, "rowPadding": 7}}
            }
          }
        ]
      }
    ]
  }
]
}
